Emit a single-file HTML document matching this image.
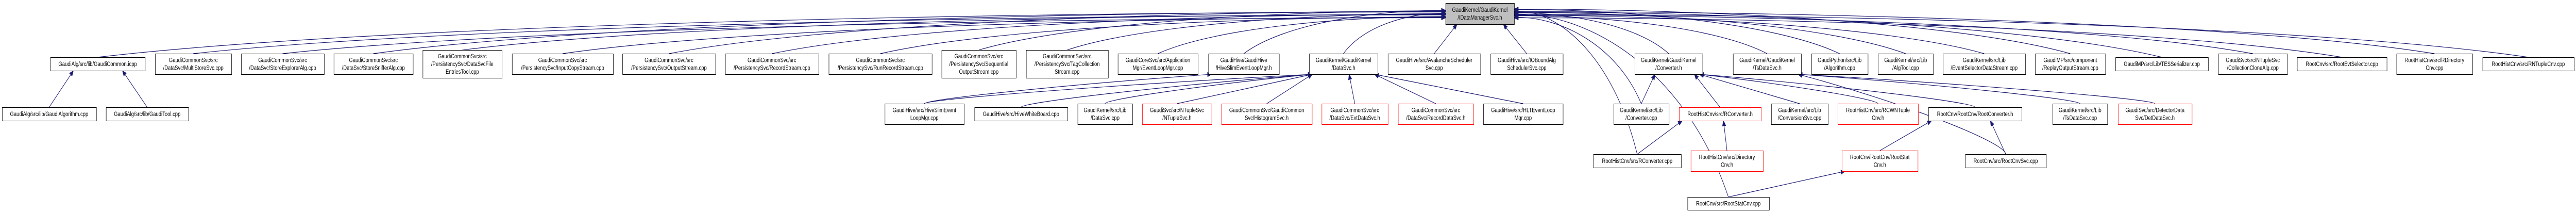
<!DOCTYPE html>
<html><head><meta charset="utf-8"><style>
html,body{margin:0;padding:0;background:#fff;width:100vw;height:100vh;overflow:hidden}
svg{display:block;width:100vw;height:100vh}
text{font-family:"Liberation Sans",sans-serif;font-size:12px;fill:#000}
</style></head><body>
<svg id="g" viewBox="0 0 6344 413" preserveAspectRatio="none" xmlns="http://www.w3.org/2000/svg">
<g id="edges" fill="none" stroke="#191970" stroke-width="1.2"></g>
<g id="heads" fill="#191970" stroke="#191970"></g>
<g id="nodes"></g>
</svg>
<script>
var N={
n0:[3560,3729,6,47,["GaudiKernel/GaudiKernel","/IDataManagerSvc.h"],2],
a1:[124,357,111,137,["GaudiAlg/src/lib/GaudiCommon.icpp"]],
a2:[382,570,104,144,["GaudiCommonSvc/src","/DataSvc/MultiStoreSvc.cpp"]],
a3:[594,798,104,144,["GaudiCommonSvc/src","/DataSvc/StoreExplorerAlg.cpp"]],
a4:[822,1017,104,144,["GaudiCommonSvc/src","/DataSvc/StoreSnifferAlg.cpp"]],
a5:[1041,1236,97,151,["GaudiCommonSvc/src","/PersistencySvc/DataSvcFile","EntriesTool.cpp"]],
a6:[1261,1510,104,144,["GaudiCommonSvc/src","/PersistencySvc/InputCopyStream.cpp"]],
a7:[1533,1762,104,144,["GaudiCommonSvc/src","/PersistencySvc/OutputStream.cpp"]],
a8:[1786,2016,104,144,["GaudiCommonSvc/src","/PersistencySvc/RecordStream.cpp"]],
a9:[2041,2295,104,144,["GaudiCommonSvc/src","/PersistencySvc/RunRecordStream.cpp"]],
a10:[2319,2502,97,151,["GaudiCommonSvc/src","/PersistencySvc/Sequential","OutputStream.cpp"]],
a11:[2527,2729,97,151,["GaudiCommonSvc/src","/PersistencySvc/TagCollection","Stream.cpp"]],
a12:[2753,2950,104,144,["GaudiCoreSvc/src/Application","Mgr/EventLoopMgr.cpp"]],
a13:[2976,3150,104,144,["GaudiHive/GaudiHive","/HiveSlimEventLoopMgr.h"]],
a14:[3224,3393,104,144,["GaudiKernel/GaudiKernel","/DataSvc.h"]],
a15:[3418,3646,104,144,["GaudiHive/src/AvalancheScheduler","Svc.cpp"]],
a16:[3671,3849,104,144,["GaudiHive/src/IOBoundAlg","SchedulerSvc.cpp"]],
a17:[4026,4193,104,144,["GaudiKernel/GaudiKernel","/Converter.h"]],
a18:[4268,4436,104,144,["GaudiKernel/GaudiKernel","/TsDataSvc.h"]],
a19:[4461,4600,104,144,["GaudiPython/src/Lib","/Algorithm.cpp"]],
a20:[4625,4761,104,144,["GaudiKernel/src/Lib","/AlgTool.cpp"]],
a21:[4785,4988,104,144,["GaudiKernel/src/Lib","/EventSelectorDataStream.cpp"]],
a22:[5012,5185,104,144,["GaudiMP/src/component","/ReplayOutputStream.cpp"]],
a23:[5210,5438,111,137,["GaudiMP/src/Lib/TESSerializer.cpp"]],
a24:[5463,5633,104,144,["GaudiSvc/src/NTupleSvc","/CollectionCloneAlg.cpp"]],
a25:[5657,5878,111,137,["RootCnv/src/RootEvtSelector.cpp"]],
a26:[5902,6089,104,144,["RootHistCnv/src/RDirectory","Cnv.cpp"]],
a27:[6114,6339,111,137,["RootHistCnv/src/RNTupleCnv.cpp"]],
b1:[5,237,208,234,["GaudiAlg/src/lib/GaudiAlgorithm.cpp"]],
b2:[261,464,208,234,["GaudiAlg/src/lib/GaudiTool.cpp"]],
b3:[2179,2374,201,241,["GaudiHive/src/HiveSlimEvent","LoopMgr.cpp"]],
b4:[2400,2629,208,234,["GaudiHive/src/HiveWhiteBoard.cpp"]],
b5:[2654,2789,201,241,["GaudiKernel/src/Lib","/DataSvc.cpp"]],
b6:[2813,2984,201,241,["GaudiSvc/src/NTupleSvc","/NTupleSvc.h"],1],
b7:[3008,3231,201,241,["GaudiCommonSvc/GaudiCommon","Svc/HistogramSvc.h"],1],
b8:[3255,3418,201,241,["GaudiCommonSvc/src","/DataSvc/EvtDataSvc.h"],1],
b9:[3443,3629,201,241,["GaudiCommonSvc/src","/DataSvc/RecordDataSvc.h"],1],
b10:[3653,3849,201,241,["GaudiHive/src/HLTEventLoop","Mgr.cpp"]],
b11:[3974,4110,201,241,["GaudiKernel/src/Lib","/Converter.cpp"]],
b12:[4135,4337,208,234,["RootHistCnv/src/RConverter.h"],1],
b13:[4362,4502,201,241,["GaudiKernel/src/Lib","/ConversionSvc.cpp"]],
b14:[4526,4724,201,241,["RootHistCnv/src/RCWNTuple","Cnv.h"],1],
b15:[4749,4979,208,234,["RootCnv/RootCnv/RootConverter.h"]],
b16:[5055,5190,201,241,["GaudiKernel/src/Lib","/TsDataSvc.cpp"]],
b17:[5216,5398,201,241,["GaudiSvc/src/DetectorData","Svc/DetDataSvc.h"],1],
c1:[3924,4140,299,325,["RootHistCnv/src/RConverter.cpp"]],
c2:[4164,4342,292,332,["RootHistCnv/src/Directory","Cnv.h"],1],
c3:[4536,4723,292,332,["RootCnv/RootCnv/RootStat","Cnv.h"],1],
c4:[4840,5039,299,325,["RootCnv/src/RootCnvSvc.cpp"]],
d1:[4156,4357,382,407,["RootCnv/src/RootStatCnv.cpp"]]
};
var E=[];
for(var i=1;i<=27;i++){E.push(["a"+i,"n0"]);}
E.push(["b1","a1"],["b2","a1"],["b3","a13"],["b3","a14"],["b4","a14"],["b5","a14"],["b6","a14"],["b7","a14"],["b8","a14"],["b9","a14"],["b10","a14"],
["b11","a17"],["b11","n0"],["b12","a17"],["b13","a17"],["b14","a17"],["b15","a17"],
["c1","b12"],["c1","n0"],["c2","b12"],["d1","c3"],["d1","n0"],["c3","b15"],["c4","b15"],["c4","a18"],["b16","a18"],["b17","a18"]);
var NS="http://www.w3.org/2000/svg";
function el(t,a,p){var e=document.createElementNS(NS,t);for(var k in a)e.setAttribute(k,a[k]);p.appendChild(e);return e;}
var ge=document.getElementById("edges"),gh=document.getElementById("heads"),gn=document.getElementById("nodes");
var cnt={};
E.forEach(function(e){
 var c=N[e[0]],p=N[e[1]];
 var cx=(c[0]+c[1])/2,cy=c[2];
 var px=(p[0]+p[1])/2;
 var ex,ey,c1x,c1y,c2x,c2y;
 var k=e[1];cnt[k]=(cnt[k]||0)+1;var off=(cnt[k]*7)%22-11;
 if(k=="n0" && cx<p[0]-40){ex=p[0];ey=(p[2]+p[3])/2+off*0.8;
   c1x=cx+(ex-cx)*0.2;c1y=cy-(cy-ey)*0.7;c2x=ex-(ex-cx)*0.35;c2y=ey;}
 else if(k=="n0" && cx>p[1]+40){ex=p[1];ey=(p[2]+p[3])/2+off*0.8;
   c1x=cx+(ex-cx)*0.2;c1y=cy-(cy-ey)*0.7;c2x=ex-(ex-cx)*0.35;c2y=ey;}
 else{ex=Math.max(p[0]+8,Math.min(p[1]-8,px+(cx-px)*0.5));ey=p[3];
   var dd=cy-ey;
   c1x=cx;c1y=cy-dd*0.15;c2x=ex+(cx-ex)*0.5;c2y=ey+dd*0.35;
   if(Math.abs(cx-ex)<400){c1x=cx;c1y=cy;c2x=ex;c2y=ey;}}
 var dx=ex-c2x,dy=ey-c2y;if(Math.abs(dx)+Math.abs(dy)<1){dx=ex-cx;dy=ey-cy;}
 var L=Math.sqrt(dx*dx+dy*dy);dx/=L;dy/=L;
 var bx=ex-dx*10,by=ey-dy*10;
 el("path",{d:"M"+cx+","+cy+" C"+c1x+","+c1y+" "+c2x+","+c2y+" "+bx+","+by},ge);
 var nx=-dy*4,ny=dx*4;
 el("polygon",{points:ex+","+ey+" "+(bx+nx)+","+(by+ny)+" "+(bx-nx)+","+(by-ny)},gh);
});
for(var id in N){var n=N[id];
 el("rect",{x:n[0]+.5,y:n[2]+.5,width:n[1]-n[0],height:n[3]-n[2],fill:n[5]==2?"#bfbfbf":"#fff",stroke:n[5]==1?"#ff0000":"#000","stroke-width":1},gn);
 var L=n[4],h=15,y0=(n[2]+n[3])/2-(L.length-1)*h/2+4;
 L.forEach(function(s,j){var t=el("text",{x:(n[0]+n[1])/2,y:y0+j*h,"text-anchor":"middle"},gn);t.textContent=s;});
}
</script>
</body></html>
